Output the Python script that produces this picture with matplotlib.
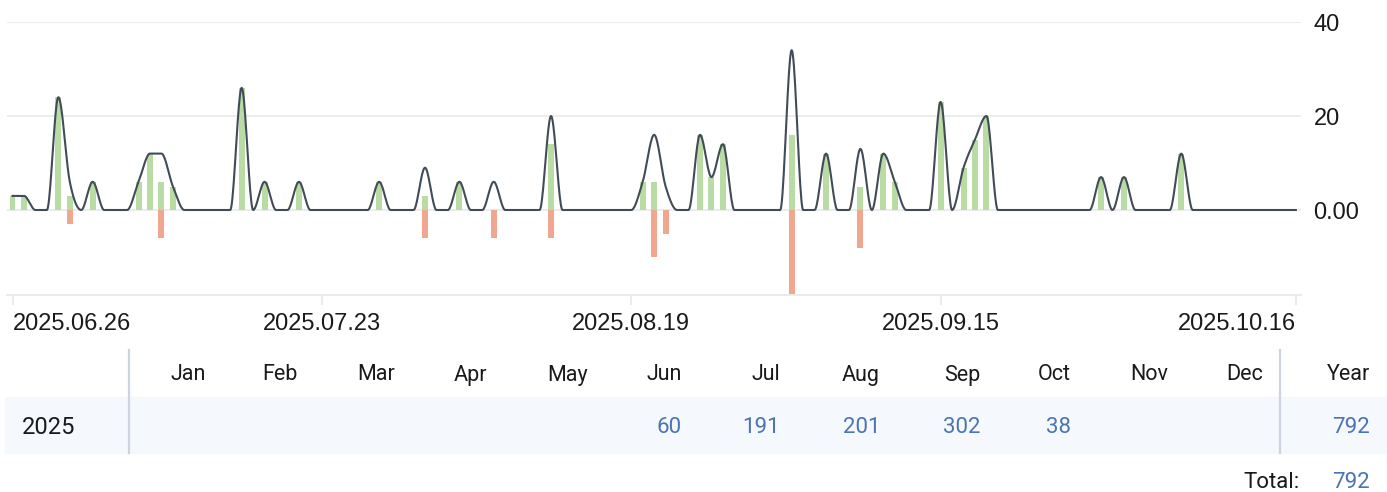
import numpy as np
import pandas as pd
import matplotlib
matplotlib.use("Agg")
import matplotlib.pyplot as plt
from matplotlib.patches import Rectangle
from matplotlib.lines import Line2D

# daily gains (green) and losses (red), only days with activity
gain_dates = ["2025-06-26", "2025-06-27", "2025-06-30", "2025-07-01", "2025-07-03",
              "2025-07-07", "2025-07-08", "2025-07-09", "2025-07-10", "2025-07-16",
              "2025-07-18", "2025-07-21", "2025-07-28", "2025-08-01", "2025-08-04",
              "2025-08-12", "2025-08-20", "2025-08-21", "2025-08-25", "2025-08-26",
              "2025-08-27", "2025-09-02", "2025-09-05", "2025-09-08", "2025-09-10",
              "2025-09-11", "2025-09-15", "2025-09-17", "2025-09-18", "2025-09-19",
              "2025-09-29", "2025-10-01", "2025-10-06"]
gain_vals = [3, 3, 24, 3, 6,
             6, 12, 6, 5, 26,
             6, 6, 6, 3, 6,
             14, 6, 6, 16, 7,
             14, 16, 12, 5, 12,
             6, 23, 9, 15, 20,
             7, 7, 12]
loss_dates = ["2025-07-01", "2025-07-09", "2025-08-01", "2025-08-07", "2025-08-12",
              "2025-08-21", "2025-08-22", "2025-09-02", "2025-09-08"]
loss_vals = [-3, -6, -6, -6, -6, -10, -5, -18, -8]

start_date, end_date = "2025-06-26", "2025-10-16"
tick_dates = ["2025-06-26", "2025-07-23", "2025-08-19", "2025-09-15", "2025-10-16"]
y_ticks = [0, 20, 40]
y_tick_labels = ["0.00", "20", "40"]

# monthly table
months = ["Jan", "Feb", "Mar", "Apr", "May", "Jun", "Jul", "Aug", "Sep", "Oct", "Nov", "Dec"]
month_vals = ["", "", "", "", "", "60", "191", "201", "302", "38", "", ""]
year_label = "2025"
year_total = "792"
grand_total = "792"

W, H = 1387, 492
GREEN = "#b9dba4"
RED = "#f1a690"
LINE = "#414c58"
GRID = "#ebebeb"
BLUE = "#4b74b3"
TXT = "#1a1a1a"


def monotone_x(y, n_sub=20):
    # d3 curveMonotoneX style hermite interpolation on unit-spaced points
    y = np.asarray(y, dtype=float)
    n = len(y)
    s = np.diff(y)
    t = np.zeros(n)
    for i in range(1, n - 1):
        s0, s1 = s[i - 1], s[i]
        p = (s0 + s1) / 2
        t[i] = (np.sign(s0) + np.sign(s1)) * min(abs(s0), abs(s1), 0.5 * abs(p))
    t[0] = (3 * s[0] - t[1]) / 2
    t[-1] = (3 * s[-1] - t[-2]) / 2
    xs, ys = [], []
    u = np.linspace(0, 1, n_sub, endpoint=False)
    h00 = 2 * u**3 - 3 * u**2 + 1
    h10 = u**3 - 2 * u**2 + u
    h01 = -2 * u**3 + 3 * u**2
    h11 = u**3 - u**2
    for i in range(n - 1):
        xs.append(i + u)
        ys.append(h00 * y[i] + h10 * t[i] + h01 * y[i + 1] + h11 * t[i + 1])
    xs.append([n - 1])
    ys.append([y[-1]])
    return np.concatenate(xs), np.concatenate(ys)


days = pd.date_range(start_date, end_date, freq="D")
gain = pd.Series(gain_vals, index=pd.to_datetime(gain_dates)).reindex(days, fill_value=0)
loss = pd.Series(loss_vals, index=pd.to_datetime(loss_dates)).reindex(days, fill_value=0)
gross = gain.values + np.abs(loss.values)
x = np.arange(len(days))

plt.rcParams["font.family"] = ["Liberation Sans", "DejaVu Sans"]
fig = plt.figure(figsize=(W / 100, H / 100), dpi=100)

left, right, top, bottom = 7, 1301, 22, 294.6
ax = fig.add_axes([left / W, 1 - bottom / H, (right - left) / W, (bottom - top) / H])

for v in y_ticks:
    ax.axhline(v, color=GRID, lw=1.3, zorder=0)

bar_w = 0.52
ax.bar(x, gain.values, width=bar_w, color=GREEN, zorder=2)
ax.bar(x, loss.values, width=bar_w, color=RED, zorder=2)

lx, ly = monotone_x(gross)
ax.plot(lx, ly, color=LINE, lw=1.5, zorder=3, solid_joinstyle="round")

ax.set_xlim(-0.48, len(days) - 1 + 0.45)
ax.set_ylim(-18, 40)

for sp in ["top", "left", "right"]:
    ax.spines[sp].set_visible(False)
ax.spines["bottom"].set_color(GRID)
ax.spines["bottom"].set_linewidth(1.5)

ax.yaxis.tick_right()
ax.set_yticks(y_ticks)
ax.set_yticklabels(y_tick_labels)
ax.tick_params(axis="y", length=0, pad=9, labelsize=17, labelcolor=TXT)

tick_pos = [(pd.Timestamp(d) - pd.Timestamp(start_date)).days for d in tick_dates]
ax.set_xticks(tick_pos)
ax.set_xticklabels([d.replace("-", ".") for d in tick_dates])
ax.tick_params(axis="x", length=7, width=1.5, color=GRID, pad=6, labelsize=17, labelcolor=TXT)
labels = ax.get_xticklabels()
labels[0].set_ha("left")
labels[-1].set_ha("right")

# monthly table below the chart
def fx(px):
    return px / W


def fy(py):
    return 1 - py / H


fig.patches.append(Rectangle((fx(5), fy(453)), fx(W - 5), (453 - 397) / H,
                             transform=fig.transFigure, color="#f5f9fe", zorder=0))
for sx in [129, 1280]:
    fig.lines.append(Line2D([fx(sx), fx(sx)], [fy(350), fy(453)], transform=fig.transFigure,
                            color="#cdd3e2", lw=1.6))

tbl_font = ["Roboto", "DejaVu Sans"]
col_right = [206, 298, 395, 487, 588, 682, 780, 880, 980, 1071, 1168, 1263]
for m, v, cx in zip(months, month_vals, col_right):
    fig.text(fx(cx), fy(375), m, ha="right", va="center", fontsize=15.5, color=TXT, family=tbl_font)
    if v:
        fig.text(fx(cx), fy(427.5), v, ha="right", va="center", fontsize=16, color=BLUE, family=tbl_font)
fig.text(fx(1370), fy(375), "Year", ha="right", va="center", fontsize=15.5, color=TXT, family=tbl_font)
fig.text(fx(1370), fy(427.5), year_total, ha="right", va="center", fontsize=16, color=BLUE, family=tbl_font)
fig.text(fx(22), fy(427.5), year_label, ha="left", va="center", fontsize=17, color=TXT, family=tbl_font)
fig.text(fx(1300), fy(482), "Total:", ha="right", va="center", fontsize=16, color=TXT, family=tbl_font)
fig.text(fx(1370), fy(482), grand_total, ha="right", va="center", fontsize=16, color=BLUE, family=tbl_font)

fig.savefig("out.png", dpi=100)
